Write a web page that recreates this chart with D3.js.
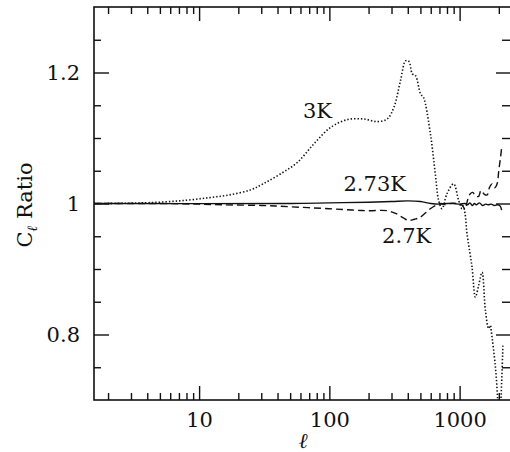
<!DOCTYPE html>
<html>
<head>
<meta charset="utf-8">
<script src="https://cdn.jsdelivr.net/npm/d3@7"></script>
<style>
html,body{margin:0;padding:0;background:#fff;}
svg{display:block;}
text{font-family:"DejaVu Serif",serif;fill:#111;}
</style>
</head>
<body>
<svg id="chart" width="510" height="452"></svg>
<script>
// ---- data (multipole l, C_l ratio) ----
const ratio3K = [[1.56,1.0],[3,1.0005],[5,1.002],[8,1.005],[12,1.009],[17,1.013],[25,1.021],[31,1.030],[42,1.045],[57,1.063],[76,1.091],[102,1.116],[137,1.128],[184,1.129],[233,1.125],[278,1.129],[313,1.147],[352,1.188],[385,1.218],[408,1.217],[433,1.198],[459,1.195],[502,1.167],[528,1.162],[596,1.107],[650,1.046],[690,1.005],[733,0.992],[800,1.015],[899,1.030],[982,1.005],[1043,0.992],[1065,0.996],[1100,0.985],[1140,0.954],[1245,0.903],[1321,0.857],[1400,0.875],[1487,0.895],[1577,0.837],[1671,0.809],[1722,0.814],[1750,0.805],[1881,0.751],[1961,0.70],[2000,0.66],[2050,0.68],[2150,0.783]];
const ratio27K = [[1.56,1.0],[5,1.0],[10,0.999],[15,0.998],[30,0.997],[50,0.995],[100,0.992],[150,0.990],[200,0.989],[278,0.989],[330,0.984],[370,0.978],[406,0.974],[450,0.976],[498,0.979],[596,0.992],[670,0.998],[720,1.0],[780,0.998],[850,1.0],[950,1.0],[1050,0.997],[1100,0.991],[1150,1.005],[1208,1.015],[1260,1.017],[1330,1.011],[1400,1.011],[1460,1.02],[1550,1.014],[1625,1.013],[1700,1.025],[1775,1.030],[1860,1.024],[1940,1.030],[2000,1.051],[2060,1.07],[2110,1.088]];
const ratio273K = [[1.56,1.0],[50,1.0],[100,1.001],[200,1.002],[300,1.003],[400,1.004],[500,1.003],[600,1.0],[700,0.999],[800,1.0],[900,1.0],[1000,0.999],[1100,1.0],[1150,0.998],[1200,1.001],[1250,0.997],[1300,1.0],[1350,0.998],[1420,1.001],[1500,0.997],[1580,0.999],[1650,0.998],[1750,0.999],[1850,0.997],[1950,0.998],[2050,0.996],[2100,0.99]];
const xMajorTicks = [10,100,1000];
const xMinorTicks = [2,3,4,5,6,7,8,9,20,30,40,50,60,70,80,90,200,300,400,500,600,700,800,900,2000];
const yMajorTicks = [0.8,1.0,1.2];
const yMinorTicks = [0.75,0.85,0.9,0.95,1.05,1.1,1.15,1.25];
const yTickLabels = {"0.8":"0.8","1":"1","1.2":"1.2"};
const curveLabels = [
  {text:"3K", l:81, v:1.1305},
  {text:"2.73K", l:223, v:1.0191},
  {text:"2.7K", l:392, v:0.9397}
];

// ---- layout ----
const L = 94, T = 7, R = 511, B = 400;
const svg = d3.select("#chart");
const x = d3.scaleLog().domain([1.56, 2480]).range([L, R]);
const y = d3.scaleLinear().domain([0.7, 1.3]).range([B, T]);

svg.append("defs").append("clipPath").attr("id","clip")
  .append("rect").attr("x",L).attr("y",T).attr("width",R-L).attr("height",B-T);

function styleAxis(g){
  g.select(".domain").remove();
  g.selectAll(".tick line").attr("stroke","#111").attr("stroke-width",1.4);
  g.selectAll(".tick text").attr("font-family","DejaVu Serif, serif").attr("font-size","21px").attr("fill","#111");
}
// bottom
svg.append("g").attr("transform",`translate(0,${B})`)
  .call(d3.axisBottom(x).tickValues(xMajorTicks).tickSize(-14).tickPadding(12).tickFormat(d3.format("d")))
  .call(styleAxis);
svg.append("g").attr("transform",`translate(0,${B})`)
  .call(d3.axisBottom(x).tickValues(xMinorTicks).tickSize(-7).tickFormat(""))
  .call(styleAxis);
// top
svg.append("g").attr("transform",`translate(0,${T})`)
  .call(d3.axisTop(x).tickValues(xMajorTicks).tickSize(-14).tickFormat(""))
  .call(styleAxis);
svg.append("g").attr("transform",`translate(0,${T})`)
  .call(d3.axisTop(x).tickValues(xMinorTicks).tickSize(-7).tickFormat(""))
  .call(styleAxis);
// left
svg.append("g").attr("transform",`translate(${L},0)`)
  .call(d3.axisLeft(y).tickValues(yMajorTicks).tickSize(-15).tickPadding(14).tickFormat(d=>yTickLabels[String(d)]))
  .call(styleAxis);
svg.append("g").attr("transform",`translate(${L},0)`)
  .call(d3.axisLeft(y).tickValues(yMinorTicks).tickSize(-7).tickFormat(""))
  .call(styleAxis);
// right
svg.append("g").attr("transform",`translate(${R},0)`)
  .call(d3.axisRight(y).tickValues(yMajorTicks).tickSize(-15).tickFormat(""))
  .call(styleAxis);
svg.append("g").attr("transform",`translate(${R},0)`)
  .call(d3.axisRight(y).tickValues(yMinorTicks).tickSize(-9).tickFormat(""))
  .call(styleAxis);

// frame
svg.append("rect").attr("x",L).attr("y",T).attr("width",R-L).attr("height",B-T)
  .attr("fill","none").attr("stroke","#111").attr("stroke-width",1.6);

// curves
const line = d3.line().x(d=>x(d[0])).y(d=>y(d[1])).curve(d3.curveCatmullRom.alpha(0.5));
const plot = svg.append("g").attr("clip-path","url(#clip)");
plot.append("path").datum(ratio273K).attr("d",line)
  .attr("fill","none").attr("stroke","#111").attr("stroke-width",1.4);
plot.append("path").datum(ratio27K).attr("d",line)
  .attr("fill","none").attr("stroke","#111").attr("stroke-width",1.4).attr("stroke-dasharray","7,4");
plot.append("path").datum(ratio3K).attr("d",line)
  .attr("fill","none").attr("stroke","#111").attr("stroke-width",1.6).attr("stroke-dasharray","1.4,2");

// curve labels
svg.selectAll("text.clabel").data(curveLabels).enter().append("text")
  .attr("class","clabel")
  .attr("x",d=>x(d.l)).attr("y",d=>y(d.v))
  .attr("text-anchor","middle")
  .attr("font-size","21px")
  .text(d=>d.text);

// axis titles
const yt = svg.append("text")
  .attr("transform","translate(32,205) rotate(-90)")
  .attr("text-anchor","middle")
  .attr("font-size","21px");
yt.append("tspan").text("C");
yt.append("tspan").attr("font-style","italic").attr("font-size","14px").attr("dy","5").text("ℓ");
yt.append("tspan").attr("dy","-5").text(" Ratio");

svg.append("text").attr("x",303).attr("y",448)
  .attr("text-anchor","middle").attr("font-size","21px").attr("font-style","italic")
  .text("ℓ");
</script>
</body>
</html>
